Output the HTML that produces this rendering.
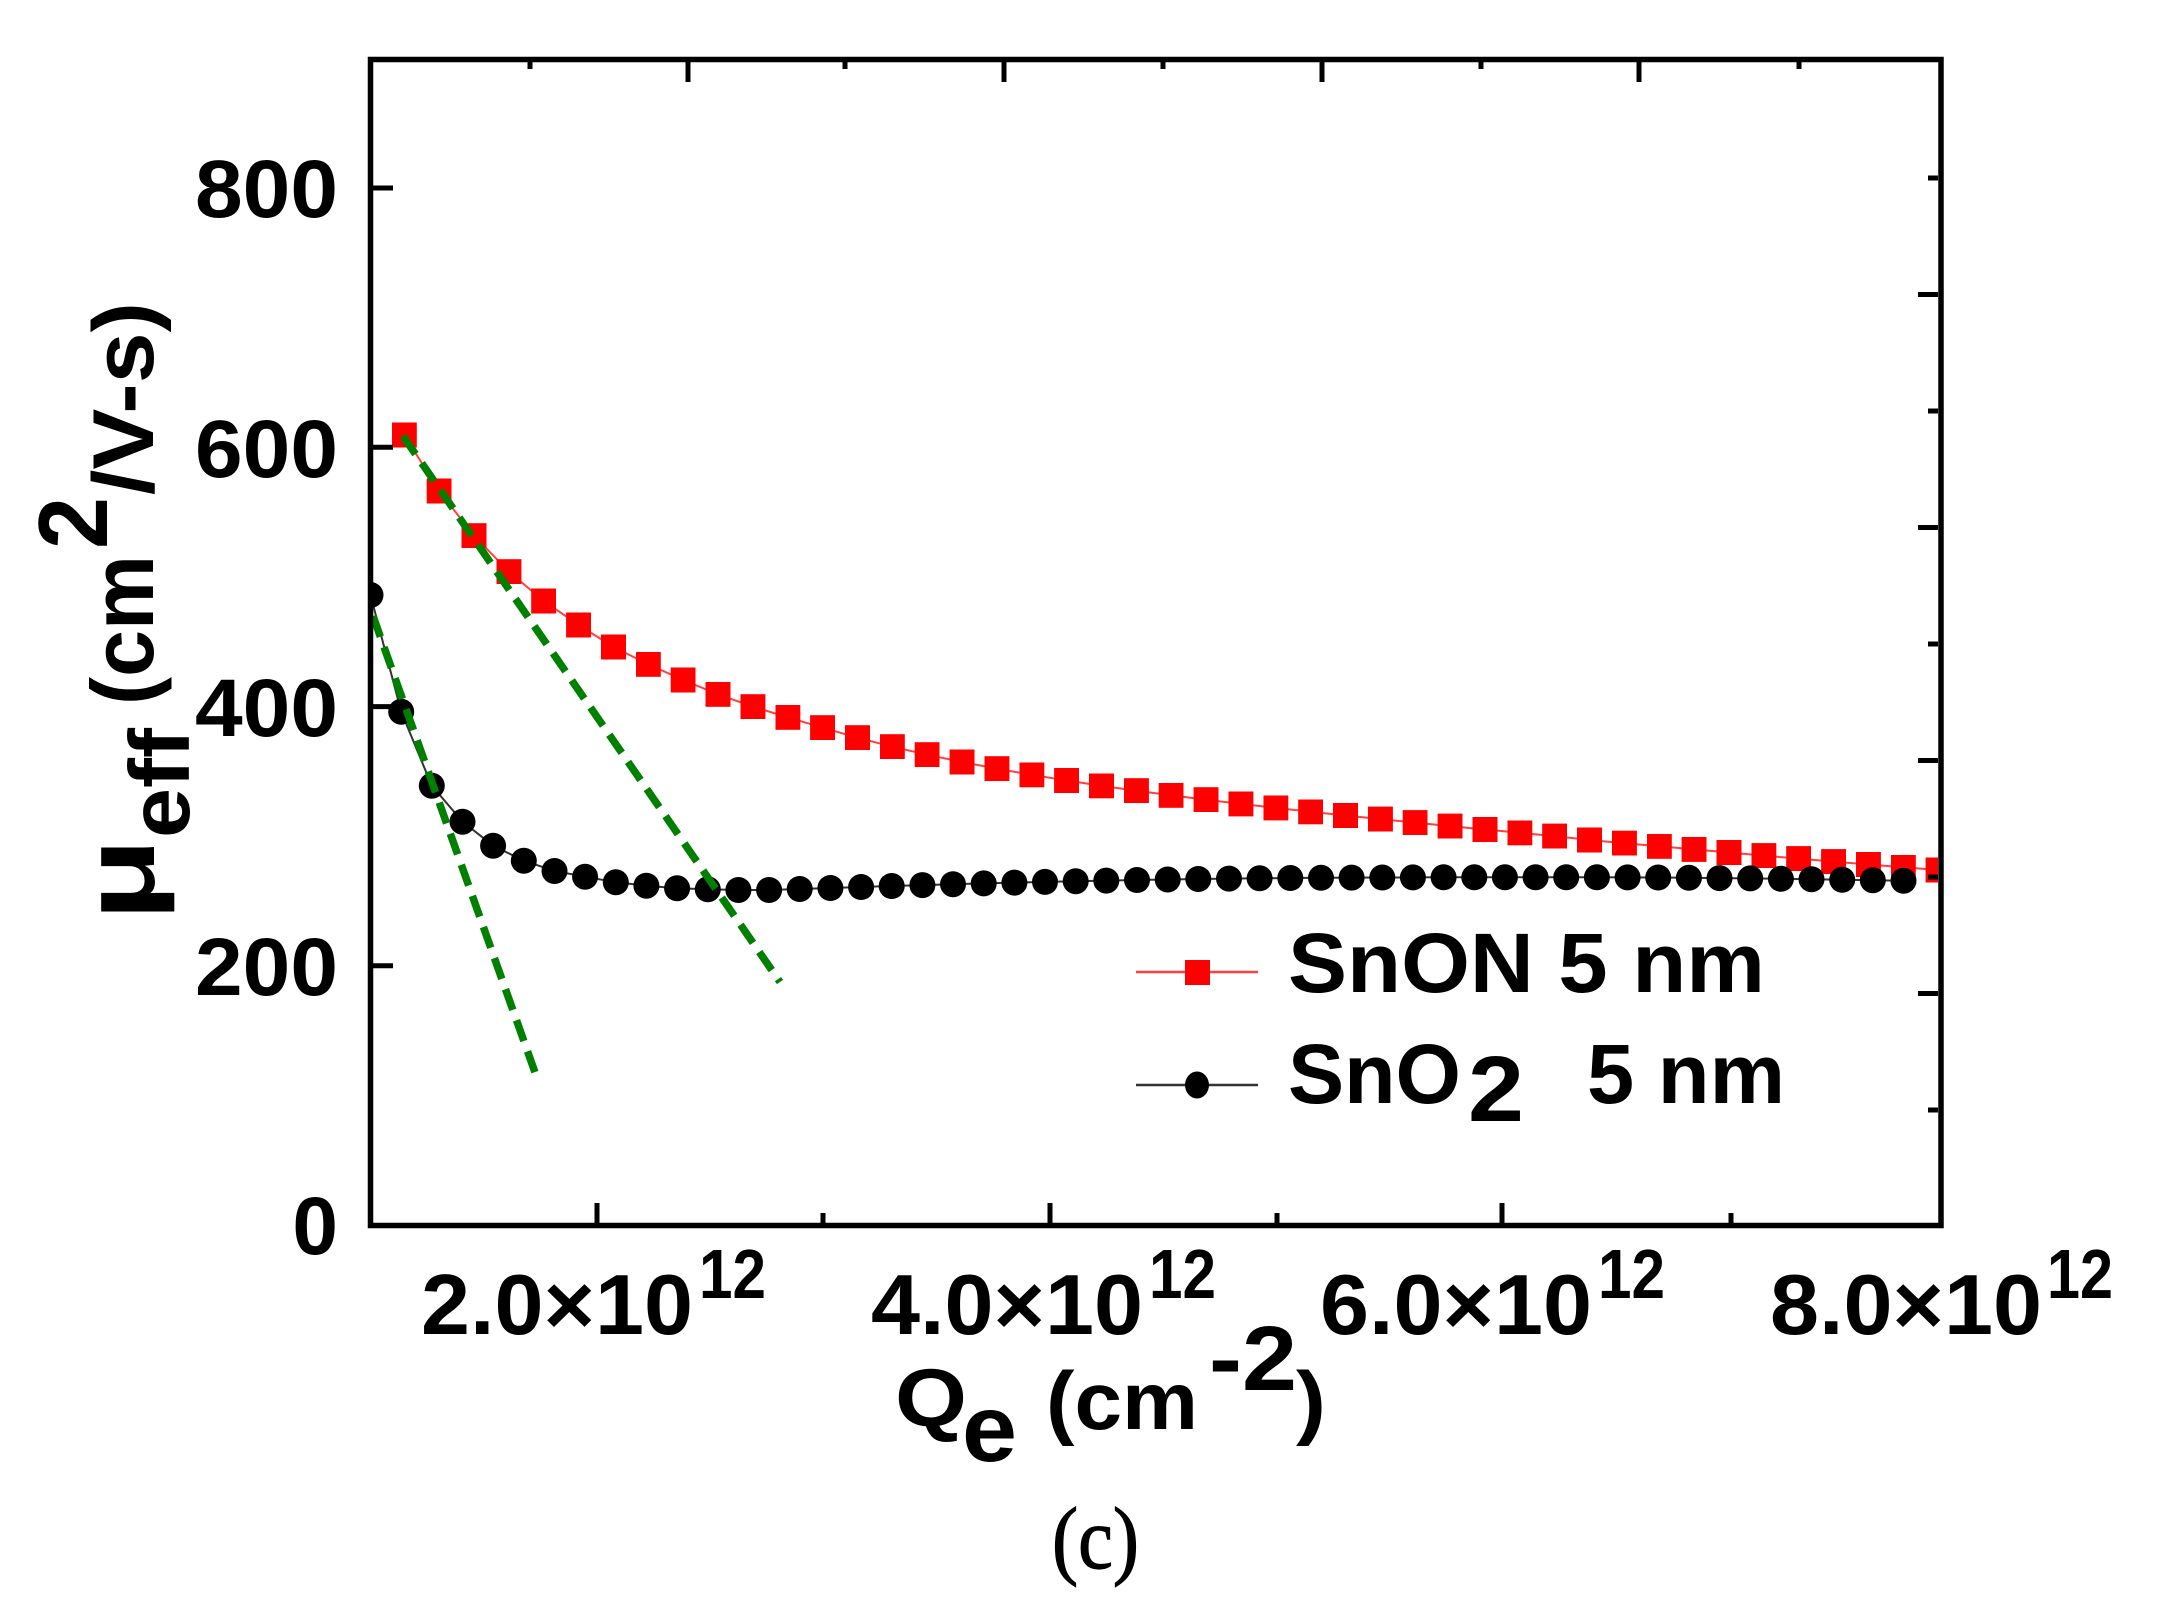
<!DOCTYPE html>
<html>
<head>
<meta charset="utf-8">
<style>
html,body{margin:0;padding:0;background:#ffffff;}
svg{display:block;}
</style>
</head>
<body>
<svg xmlns="http://www.w3.org/2000/svg" width="2171" height="1608" viewBox="0 0 2171 1608" font-family="'Liberation Sans', Arial, sans-serif" font-weight="bold">
<defs>
  <clipPath id="plot"><rect x="373" y="62" width="1565" height="1160"/></clipPath>
  <marker id="ms" viewBox="0 0 25 25" refX="12.5" refY="12.5" markerWidth="25" markerHeight="25" markerUnits="userSpaceOnUse"><rect x="0" y="0" width="25" height="25" fill="#ff0000"/></marker>
  <marker id="mc" viewBox="0 0 27 27" refX="13.5" refY="13.5" markerWidth="27" markerHeight="27" markerUnits="userSpaceOnUse"><circle cx="13.5" cy="13.5" r="13" fill="#000000"/></marker>
</defs>
<rect x="0" y="0" width="2171" height="1608" fill="#ffffff"/>

<g clip-path="url(#plot)">
  <!-- SnON series -->
  <polyline fill="none" stroke="#ff4040" stroke-width="2" marker-start="url(#ms)" marker-mid="url(#ms)" marker-end="url(#ms)"
    points="404.3,435 439.2,491 474.0,535.7 508.9,571.7 543.7,601 578.6,625 613.5,647 648.3,664.3 683.2,680 718.0,694.3 752.9,706.7 787.8,717.3 822.6,727.7 857.5,737.7 892.3,746.7 927.2,754.7 962.1,762.0 996.9,768.7 1031.8,774.8 1066.6,780.5 1101.5,785.8 1136.4,790.7 1171.2,795.3 1206.1,799.7 1240.9,803.9 1275.8,807.9 1310.7,811.8 1345.5,815.5 1380.4,819.1 1415.2,822.6 1450.1,826.1 1485.0,829.5 1519.8,832.8 1554.7,836.1 1589.5,840 1624.4,843.2 1659.3,846.3 1694.1,849.4 1729.0,852.5 1763.8,855.6 1798.7,858.6 1833.6,861.6 1868.4,864.5 1903.3,867.3 1938.1,870"/>
  <!-- SnO2 series -->
  <polyline fill="none" stroke="#333333" stroke-width="2" marker-start="url(#mc)" marker-mid="url(#mc)" marker-end="url(#mc)"
    points="370.5,595 401.2,711.7 431.8,785.7 462.5,821.7 493.1,845.7 523.8,860.7 554.5,871 585.1,876.7 615.8,882.3 646.4,885.7 677.1,888.3 707.8,889.3 738.4,890 769.1,890 799.7,889 830.4,888 861.1,887 891.7,886 922.4,885.1 953.0,884.2 983.7,883.4 1014.4,882.6 1045.0,881.9 1075.7,881.2 1106.3,880.6 1137.0,880.0 1167.7,879.5 1198.3,879.0 1229.0,878.6 1259.6,878.3 1290.3,878.0 1321.0,877.8 1351.6,877.6 1382.3,877.5 1412.9,877.4 1443.6,877.3 1474.3,877.3 1504.9,877.3 1535.6,877.3 1566.2,877.3 1596.9,877.3 1627.6,877.4 1658.2,877.5 1688.9,877.8 1719.5,878.1 1750.2,878.4 1780.9,878.8 1811.5,879.2 1842.2,879.7 1872.8,880.2 1903.5,880.7"/>
  <!-- green dashed fits -->
  <line x1="403" y1="436" x2="780" y2="982" stroke="#008000" stroke-width="7.5" stroke-dasharray="22 11"/>
  <line x1="373" y1="616" x2="537" y2="1078" stroke="#008000" stroke-width="7.5" stroke-dasharray="22 11"/>
</g>

<!-- frame -->
<rect x="370.5" y="59.5" width="1570.5" height="1166" fill="none" stroke="#000" stroke-width="5.5"/>

<!-- ticks -->
<path fill="none" stroke="#000" stroke-width="5"
  d="M373 188H393 M373 447.3H393 M373 706.6H393 M373 965.8H393
     M597 1223V1203 M1050 1223V1203 M1502 1223V1203 M823 1223V1213 M1277 1223V1213 M1731 1223V1213
     M688 62V82 M1004 62V82 M1322 62V82 M1639 62V82 M530 62V69 M845 62V69 M1163 62V69 M1481 62V69 M1799 62V69
     M1938 294.5H1918 M1938 527.5H1918 M1938 760.5H1918 M1938 993.5H1918
     M1938 178H1928 M1938 411H1928 M1938 644H1928 M1938 877H1928 M1938 1110H1928"/>

<!-- y tick labels -->
<g font-size="82" text-anchor="end" fill="#000">
  <text x="338" y="217" textLength="143" lengthAdjust="spacingAndGlyphs">800</text>
  <text x="338" y="477" textLength="143" lengthAdjust="spacingAndGlyphs">600</text>
  <text x="338" y="736" textLength="143" lengthAdjust="spacingAndGlyphs">400</text>
  <text x="338" y="995" textLength="143" lengthAdjust="spacingAndGlyphs">200</text>
  <text x="338" y="1254">0</text>
</g>

<!-- x tick labels -->
<g fill="#000">
  <text x="421" y="1334" font-size="85" textLength="272" lengthAdjust="spacingAndGlyphs">2.0×10</text>
  <text x="699" y="1298" font-size="70" textLength="67" lengthAdjust="spacingAndGlyphs">12</text>
  <text x="871" y="1334" font-size="85" textLength="272" lengthAdjust="spacingAndGlyphs">4.0×10</text>
  <text x="1149" y="1298" font-size="70" textLength="67" lengthAdjust="spacingAndGlyphs">12</text>
  <text x="1320" y="1334" font-size="85" textLength="272" lengthAdjust="spacingAndGlyphs">6.0×10</text>
  <text x="1598" y="1298" font-size="70" textLength="67" lengthAdjust="spacingAndGlyphs">12</text>
  <text x="1770" y="1334" font-size="85" textLength="272" lengthAdjust="spacingAndGlyphs">8.0×10</text>
  <text x="2047" y="1298" font-size="70" textLength="66" lengthAdjust="spacingAndGlyphs">12</text>
</g>

<!-- x axis title -->
<g fill="#000">
  <text x="895" y="1426" font-size="82" textLength="72" lengthAdjust="spacingAndGlyphs">Q</text>
  <text x="962" y="1461" font-size="95" textLength="55" lengthAdjust="spacingAndGlyphs">e</text>
  <text x="1046" y="1429" font-size="82" textLength="152" lengthAdjust="spacingAndGlyphs">(cm</text>
  <text x="1209" y="1390" font-size="92" textLength="88" lengthAdjust="spacingAndGlyphs">-2</text>
  <text x="1296" y="1429" font-size="82" textLength="30" lengthAdjust="spacingAndGlyphs">)</text>
</g>

<!-- y axis title (rotated) -->
<g transform="rotate(-90)" fill="#000">
  <text x="-921" y="154" font-size="100" textLength="83" lengthAdjust="spacingAndGlyphs">μ</text>
  <text x="-838" y="189" font-size="85" textLength="110" lengthAdjust="spacingAndGlyphs">eff</text>
  <text x="-705" y="153" font-size="88" textLength="150" lengthAdjust="spacingAndGlyphs">(cm</text>
  <text x="-549" y="107" font-size="98" textLength="52" lengthAdjust="spacingAndGlyphs">2</text>
  <text x="-495" y="153" font-size="86" textLength="193" lengthAdjust="spacingAndGlyphs">/V-s)</text>
</g>

<!-- legend -->
<line x1="1136" y1="972" x2="1258" y2="972" stroke="#ff4040" stroke-width="2.5"/>
<rect x="1185" y="960" width="25" height="25" fill="#ff0000"/>
<text x="1288" y="992" font-size="84" fill="#000" textLength="477" lengthAdjust="spacingAndGlyphs">SnON 5 nm</text>

<line x1="1136" y1="1085" x2="1258" y2="1085" stroke="#333333" stroke-width="2.5"/>
<ellipse cx="1197" cy="1085" rx="12" ry="13.5" fill="#000"/>
<text x="1288" y="1103" font-size="84" fill="#000" textLength="173" lengthAdjust="spacingAndGlyphs">SnO</text>
<text x="1468" y="1121" font-size="93" fill="#000" textLength="56" lengthAdjust="spacingAndGlyphs">2</text>
<text x="1587" y="1103" font-size="84" fill="#000" textLength="198" lengthAdjust="spacingAndGlyphs">5 nm</text>

<!-- panel label -->
<text x="1052" y="1568" font-family="'Liberation Serif', 'Times New Roman', serif" font-weight="normal" font-size="88" fill="#000" stroke="#000" stroke-width="1.2" textLength="87" lengthAdjust="spacingAndGlyphs">(c)</text>
</svg>
</body>
</html>
